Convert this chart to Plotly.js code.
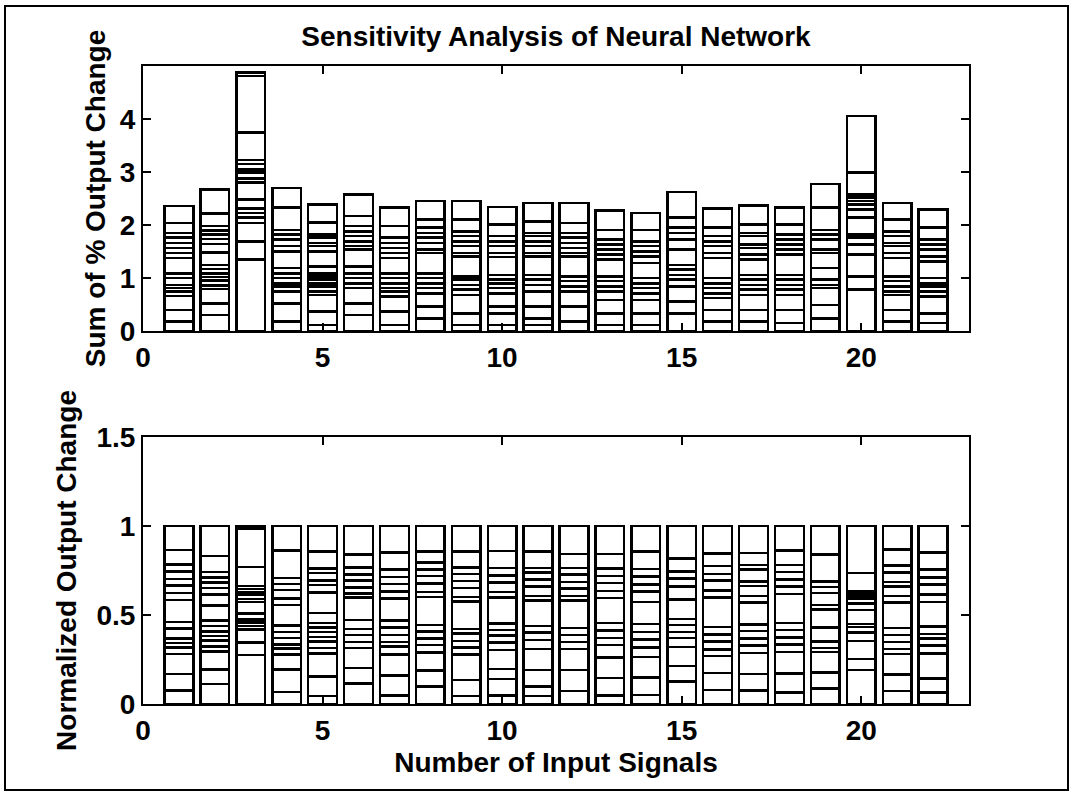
<!DOCTYPE html>
<html>
<head>
<meta charset="utf-8">
<script src="https://cdn.plot.ly/plotly-3.0.1.min.js"></script>
<style>
  html, body { margin: 0; padding: 0; background: #fff; }
  #wrap { position: relative; width: 1073px; height: 794px; }
  #chart { width: 1073px; height: 794px; }
  #frame { position: absolute; left: 4px; top: 5px; width: 1061px; height: 782px;
           border: 2px solid #000; pointer-events: none; }
</style>
</head>
<body>
<div id="wrap">
  <div id="chart"></div>
  <div id="frame"></div>
</div>
<script>
// Input signal numbers (x categories)
const inputSignals = [1,2,3,4,5,6,7,8,9,10,11,12,13,14,15,16,17,18,19,20,21,22];

// Cumulative stack boundaries (sum of % output change), bottom to top
const sig01 = [0.18,0.40,0.66,0.75,0.81,0.87,1.00,1.09,1.38,1.47,1.57,1.66,1.76,1.85,2.04,2.36];
const sig02 = [0.30,0.52,0.79,0.86,0.95,1.02,1.09,1.17,1.25,1.48,1.64,1.74,1.82,1.90,1.98,2.22,2.67];
const sig03 = [1.35,1.69,2.04,2.14,2.23,2.31,2.48,2.80,2.88,2.99,3.05,3.15,3.23,3.75,4.81,4.88];
const sig04 = [0.18,0.52,0.75,0.84,0.90,1.00,1.09,1.19,1.50,1.60,1.73,1.82,1.91,2.33,2.70];
const sig05 = [0.11,0.37,0.68,0.75,0.84,0.90,0.97,1.03,1.09,1.22,1.50,1.60,1.66,1.76,1.82,2.05,2.39];
const sig06 = [0.30,0.52,0.81,0.90,1.00,1.09,1.22,1.54,1.60,1.69,1.79,1.88,1.98,2.17,2.58];
const sig07 = [0.11,0.37,0.65,0.75,0.81,0.90,1.00,1.09,1.38,1.47,1.57,1.66,1.76,1.98,2.33];
const sig08 = [0.24,0.46,0.71,0.81,0.90,1.00,1.09,1.47,1.54,1.66,1.76,1.85,1.95,2.10,2.45];
const sig09 = [0.11,0.33,0.68,0.78,0.87,0.97,1.03,1.41,1.47,1.60,1.69,1.79,1.88,2.10,2.45];
const sig10 = [0.11,0.33,0.46,0.71,0.81,0.90,0.97,1.06,1.40,1.47,1.60,1.69,1.79,2.01,2.34];
const sig11 = [0.11,0.24,0.46,0.75,0.87,0.97,1.06,1.41,1.47,1.60,1.69,1.79,1.85,2.07,2.42];
const sig12 = [0.18,0.46,0.75,0.84,0.94,1.03,1.41,1.47,1.57,1.66,1.76,1.85,2.04,2.42];
const sig13 = [0.11,0.33,0.59,0.75,0.84,0.94,1.03,1.35,1.44,1.54,1.63,1.73,1.91,2.27];
const sig14 = [0.11,0.33,0.59,0.71,0.81,0.90,1.00,1.28,1.41,1.50,1.60,1.69,1.91,2.23];
const sig15 = [0.33,0.56,0.84,0.97,1.06,1.16,1.25,1.54,1.73,1.85,1.95,2.14,2.62];
const sig16 = [0.18,0.40,0.62,0.71,0.81,0.90,1.00,1.38,1.47,1.60,1.69,1.79,1.95,2.31];
const sig17 = [0.18,0.40,0.68,0.78,0.87,0.97,1.06,1.35,1.44,1.57,1.63,1.79,1.85,2.01,2.37];
const sig18 = [0.15,0.40,0.68,0.78,0.87,0.97,1.06,1.44,1.54,1.63,1.73,1.82,2.01,2.33];
const sig19 = [0.24,0.49,0.81,0.87,0.97,1.19,1.47,1.54,1.73,1.82,1.91,2.33,2.77];
const sig20 = [0.78,1.03,1.44,1.63,1.76,1.82,2.14,2.29,2.39,2.45,2.52,2.58,2.99,4.06];
const sig21 = [0.18,0.40,0.68,0.75,0.84,0.94,1.03,1.38,1.47,1.60,1.66,1.79,1.88,2.10,2.42];
const sig22 = [0.15,0.33,0.65,0.75,0.84,0.90,1.00,1.31,1.41,1.54,1.63,1.73,1.95,2.29];

// Tick labels
const xTicks = [0,5,10,15,20];
const yTicksTop = [0,1,2,3,4];
const yTicksBottom = [0,0.5,1,1.5];
const yTickTextBottom = ['0','0.5','1','1.5'];

const levels = [sig01,sig02,sig03,sig04,sig05,sig06,sig07,sig08,sig09,sig10,sig11,
                sig12,sig13,sig14,sig15,sig16,sig17,sig18,sig19,sig20,sig21,sig22];
const nSeg = Math.max(...levels.map(l => l.length));

const FONT = 'Liberation Sans, Arial, Helvetica, sans-serif';
const barStyle = { color: '#ffffff', line: { color: '#000000', width: 2.5 } };
const textFont = { family: FONT, size: 28, color: '#000', weight: 'bold' };

const traces = [];
for (let k = 0; k < nSeg; k++) {
  const seg = levels.map(l => k < l.length ? l[k] - (k > 0 ? l[k-1] : 0) : 0);
  const segNorm = levels.map((l, i) => seg[i] / l[l.length - 1]);
  traces.push({ type: 'bar', x: inputSignals, y: seg, width: 0.8, xaxis: 'x', yaxis: 'y',
                marker: barStyle, showlegend: false, hoverinfo: 'y' });
  traces.push({ type: 'bar', x: inputSignals, y: segNorm, width: 0.8, xaxis: 'x2', yaxis: 'y2',
                marker: barStyle, showlegend: false, hoverinfo: 'y' });
}

const axisCommon = {
  showline: true, linecolor: '#000', linewidth: 2, mirror: 'ticks',
  ticks: 'inside', ticklen: 8, tickwidth: 2, tickcolor: '#000',
  showgrid: false, zeroline: false,
  tickfont: textFont
};

const layout = {
  width: 1073, height: 794,
  margin: { l: 143, r: 104, t: 66, b: 90 },
  paper_bgcolor: '#fff', plot_bgcolor: '#fff',
  barmode: 'stack',
  font: { family: FONT, color: '#000' },
  title: { text: 'Sensitivity Analysis of Neural Network',
           font: textFont,
           x: 0.5, xref: 'paper', y: 1 - 36/794, yref: 'container', yanchor: 'middle' },
  xaxis: Object.assign({}, axisCommon, { anchor: 'y', domain: [0,1], range: [0,23], tickvals: xTicks }),
  yaxis: Object.assign({}, axisCommon, { anchor: 'x', domain: [0.5846,1], range: [0,5], tickvals: yTicksTop,
           title: { text: 'Sum of % Output Change', font: textFont, standoff: 6 } }),
  xaxis2: Object.assign({}, axisCommon, { anchor: 'y2', domain: [0,1], range: [0,23], tickvals: xTicks,
           title: { text: 'Number of Input Signals', font: textFont, standoff: 8 } }),
  yaxis2: Object.assign({}, axisCommon, { anchor: 'x2', domain: [0,0.4185], range: [0,1.5],
           tickvals: yTicksBottom, ticktext: yTickTextBottom,
           title: { text: 'Normalized Output Change', font: textFont, standoff: 12 } })
};

Plotly.newPlot('chart', traces, layout, { displayModeBar: false, staticPlot: true });
</script>
</body>
</html>
